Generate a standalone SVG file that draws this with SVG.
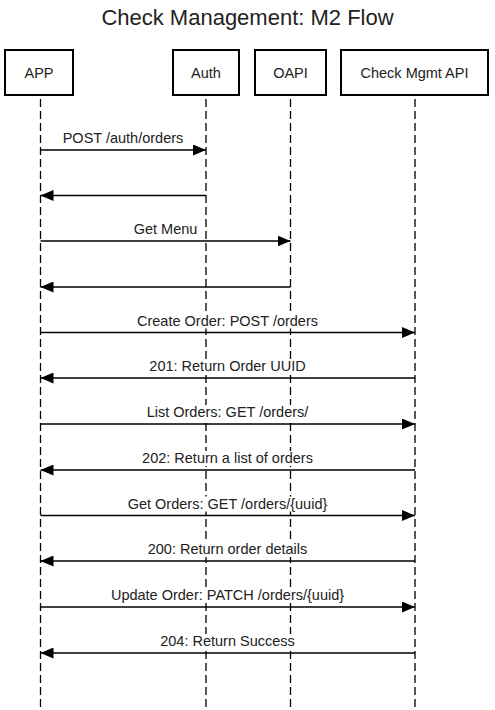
<svg xmlns="http://www.w3.org/2000/svg" width="495" height="710" viewBox="0 0 495 710">
<style>
.box{fill:#fff;stroke:#000;stroke-width:2}
.life{stroke:#000;stroke-width:1.3;stroke-dasharray:8 4;fill:none}
.msg{stroke:#000;stroke-width:1.3;fill:none}
.bg{fill:#fff}
text{font-family:"Liberation Sans",Arial,sans-serif;fill:#222}
.lbl{font-size:14.5px;text-anchor:middle}
.hdr{font-size:14.5px;text-anchor:middle}
</style>
<defs>
<marker id="ah" viewBox="0 0 13 11" refX="13" refY="5.5" markerWidth="13" markerHeight="11" markerUnits="userSpaceOnUse" orient="auto">
<path d="M0,0 L13,5.5 L0,11 Z" fill="#000"/>
</marker>
</defs>
<rect width="495" height="710" fill="#fff"/>
<text x="247.5" y="25" font-size="22" text-anchor="middle">Check Management: M2 Flow</text>
<g id="lifelines">
<line class="life" x1="40.5" y1="95" x2="40.5" y2="710" stroke-dashoffset="-4"/>
<line class="life" x1="206" y1="95" x2="206" y2="710" stroke-dashoffset="-4"/>
<line class="life" x1="290.5" y1="95" x2="290.5" y2="710" stroke-dashoffset="-4"/>
<line class="life" x1="415" y1="95" x2="415" y2="710" stroke-dashoffset="-4"/>
</g>
<g id="app"><rect class="box" x="5" y="50" width="68" height="45"/><text class="hdr" x="39" y="78">APP</text></g>
<g id="auth"><rect class="box" x="173" y="50" width="66" height="45"/><text class="hdr" x="206" y="78">Auth</text></g>
<g id="oapi"><rect class="box" x="255" y="50" width="71" height="45"/><text class="hdr" x="290.5" y="78">OAPI</text></g>
<g id="cmapi"><rect class="box" x="341" y="50" width="147" height="45"/><text class="hdr" x="414.5" y="78">Check Mgmt API</text></g>
<g id="connectors">
<line class="msg" x1="40.5" y1="150" x2="206" y2="150" marker-end="url(#ah)"/>
<rect class="bg" x="61" y="131" width="124" height="15"/>
<text class="lbl" x="123" y="143">POST /auth/orders</text>
<line class="msg" x1="206" y1="195.5" x2="40.5" y2="195.5" marker-end="url(#ah)"/>
<line class="msg" x1="40.5" y1="241" x2="290.5" y2="241" marker-end="url(#ah)"/>
<rect class="bg" x="133" y="222" width="65" height="15"/>
<text class="lbl" x="165.5" y="234">Get Menu</text>
<line class="msg" x1="290.5" y1="287" x2="40.5" y2="287" marker-end="url(#ah)"/>
<line class="msg" x1="40.5" y1="332.5" x2="415" y2="332.5" marker-end="url(#ah)"/>
<rect class="bg" x="135" y="313.5" width="185" height="15"/>
<text class="lbl" x="227.5" y="325.5">Create Order: POST /orders</text>
<line class="msg" x1="415" y1="378" x2="40.5" y2="378" marker-end="url(#ah)"/>
<rect class="bg" x="147" y="359" width="161" height="15"/>
<text class="lbl" x="227.5" y="371">201: Return Order UUID</text>
<line class="msg" x1="40.5" y1="424" x2="415" y2="424" marker-end="url(#ah)"/>
<rect class="bg" x="144" y="405" width="167" height="15"/>
<text class="lbl" x="227.5" y="417">List Orders: GET /orders/</text>
<line class="msg" x1="415" y1="470" x2="40.5" y2="470" marker-end="url(#ah)"/>
<rect class="bg" x="140" y="451" width="175" height="15"/>
<text class="lbl" x="227.5" y="463">202: Return a list of orders</text>
<line class="msg" x1="40.5" y1="515.5" x2="415" y2="515.5" marker-end="url(#ah)"/>
<rect class="bg" x="125" y="496.5" width="205" height="15"/>
<text class="lbl" x="227.5" y="508.5">Get Orders: GET /orders/{uuid}</text>
<line class="msg" x1="415" y1="561" x2="40.5" y2="561" marker-end="url(#ah)"/>
<rect class="bg" x="145" y="542" width="165" height="15"/>
<text class="lbl" x="227.5" y="554">200: Return order details</text>
<line class="msg" x1="40.5" y1="607" x2="415" y2="607" marker-end="url(#ah)"/>
<rect class="bg" x="108" y="588" width="239" height="15"/>
<text class="lbl" x="227.5" y="600">Update Order: PATCH /orders/{uuid}</text>
<line class="msg" x1="415" y1="653" x2="40.5" y2="653" marker-end="url(#ah)"/>
<rect class="bg" x="158" y="634" width="139" height="15"/>
<text class="lbl" x="227.5" y="646">204: Return Success</text>
</g>
</svg>
